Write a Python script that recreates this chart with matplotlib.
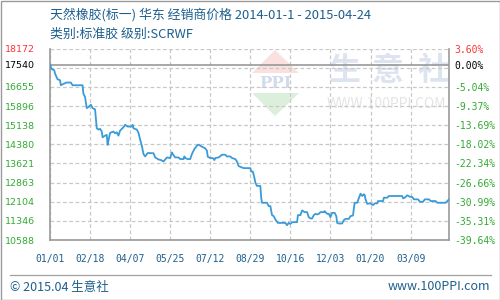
import matplotlib
matplotlib.use("Agg")
import matplotlib.pyplot as plt
from matplotlib.patches import Polygon, Rectangle
import numpy as np

plt.rcParams['font.family'] = ['Noto Sans CJK SC', 'DejaVu Sans']

# data (day offset from 2014-01-01, price in yuan/ton)
days = [0, 2, 5, 6, 9, 12, 13, 16, 20, 25, 27, 39, 40, 42, 44, 46, 49, 51, 54, 56,
        58, 60, 62, 63, 66, 68, 69, 70, 72, 76, 78, 80, 82, 84, 88, 90, 93, 98, 99, 100,
        104, 106, 108, 110, 112, 114, 117, 124, 126, 130, 133, 136, 140, 144, 146, 147, 150, 154, 156, 160,
        161, 162, 165, 168, 170, 173, 176, 178, 182, 186, 188, 189, 192, 195, 197, 198, 202, 206, 210, 212,
        216, 218, 222, 224, 226, 232, 240, 241, 243, 245, 246, 248, 252, 253, 254, 260, 262, 264, 266, 268,
        270, 273, 282, 284, 286, 288, 290, 296, 297, 300, 302, 305, 308, 310, 312, 314, 316, 318, 320, 322,
        324, 328, 329, 332, 334, 336, 338, 341, 343, 344, 346, 350, 352, 354, 358, 360, 363, 364, 365, 368,
        369, 371, 372, 374, 376, 377, 378, 380, 384, 387, 389, 392, 393, 399, 400, 404, 406, 422, 423, 425,
        428, 431, 434, 436, 441, 443, 447, 449, 454, 456, 462, 464, 474, 476, 478]
price = [17540, 17362, 17322, 17190, 16962, 16922, 16723, 16775, 16831, 16831, 16723, 16723, 16392, 16256, 15817, 15857, 15952, 15817, 15765, 15018,
         14966, 14994, 14887, 14659, 14727, 14755, 14356, 14527, 14835, 14887, 14819, 14859, 14727, 14926, 15058, 15154, 15086, 15086, 15154, 15018,
         14966, 14835, 14567, 14328, 13996, 13901, 14036, 14028, 13861, 13781, 13757, 13701, 13861, 13837, 14060, 13996, 13861, 13861, 13797, 13797,
         13901, 13837, 13797, 13797, 13996, 14196, 14328, 14368, 14288, 14220, 14128, 13889, 13837, 13837, 13757, 13837, 13861, 13968, 13968, 13901,
         13901, 13837, 13797, 13701, 13517, 13437, 13437, 13302, 13302, 13038, 12863, 12731, 12731, 12264, 12064, 12064, 11932, 11932, 11573, 11533,
         11402, 11266, 11266, 11174, 11266, 11226, 11294, 11294, 11573, 11573, 11761, 11693, 11693, 11493, 11442, 11442, 11573, 11625, 11601, 11625,
         11693, 11693, 11733, 11625, 11625, 11493, 11665, 11665, 11533, 11266, 11242, 11242, 11374, 11426, 11426, 11533, 11561, 11841, 12064, 12064,
         12160, 12332, 12424, 12332, 12400, 12372, 12200, 12024, 12040, 11972, 12040, 12040, 12132, 12132, 12264, 12264, 12332, 12332, 12240, 12264,
         12360, 12304, 12292, 12200, 12200, 12104, 12104, 12200, 12200, 12132, 12132, 12064, 12064, 12132, 12200]

base_price = 17540
y_min, y_max = 10588, 18172
left_labels = ['10588', '11346', '12104', '12863', '13621', '14380', '15138', '15896', '16655', '', '18172']
right_labels = ['-39.64%', '-35.31%', '-30.99%', '-26.66%', '-22.34%', '-18.02%', '-13.69%', '-9.37%', '-5.04%', '', '3.60%']
x_labels = ['01/01', '02/18', '04/07', '05/25', '07/12', '08/29', '10/16', '12/03', '01/20', '03/09']
x_step = 48
x_end = 478

title = '天然橡胶(标一) 华东 经销商价格 2014-01-1 - 2015-04-24'
subtitle = '类别:标准胶 级别:SCRWF'

blue_txt = '#1d5f8e'
red = '#ff3333'
green = '#33aa33'
grid_c = '#c8c8c8'
axis_c = '#999999'

fig = plt.figure(figsize=(5, 3), dpi=100)

# background layer in pixel coords for frame, texts and watermark
bg = fig.add_axes([0, 0, 1, 1], zorder=0)
bg.set_xlim(0, 500)
bg.set_ylim(300, 0)
bg.axis('off')
bg.add_patch(Rectangle((0.5, 0.5), 499, 299, fill=False, ec='#9a9a9a', lw=1))
bg.plot([10, 491], [275, 275], color='#a0a0a0', lw=0.9)
bg.text(50, 15, title, color=blue_txt, fontsize=9.3, va='center', ha='left')
bg.text(50, 34, subtitle, color=blue_txt, fontsize=9.3, va='center', ha='left')
bg.text(10, 287, '© 2015.04 生意社', color=blue_txt, fontsize=9, va='center', ha='left')
bg.text(490, 287, 'www.100PPI.com', color=blue_txt, fontsize=9, va='center', ha='right')

# watermark logo
bg.add_patch(Polygon([[275, 50], [252, 73], [299, 73]], closed=True, fc='#fbe0e0', ec='none'))
bg.add_patch(Polygon([[252, 93], [299, 93], [275, 116]], closed=True, fc='#dcefdc', ec='none'))
bg.text(275, 83, 'PPI', color='#d0dbeb', fontsize=12, fontweight='bold', family='DejaVu Serif',
        ha='center', va='center')
for cx, ch in zip([344, 388, 434], '生意社'):
    bg.text(cx, 71, ch, color='#dde4ef', fontsize=23, fontweight='bold', ha='center', va='center')
bg.text(386, 104, 'WWW.100PPI.COM', color='#e4e4e4', fontsize=10, ha='center', va='center')

# main chart
ax = fig.add_axes([50 / 500, 1 - 240 / 300, 399 / 500, 191.3 / 300], zorder=1)
ax.patch.set_alpha(0)
ax.set_xlim(0, x_end)
ax.set_ylim(y_min, y_max)

grid_vals = np.linspace(y_min, y_max, 11)
for v in grid_vals:
    ax.axhline(v, color=grid_c, lw=0.9, ls=(0, (3, 2)), zorder=1)
x_ticks = np.arange(len(x_labels)) * x_step
for t in x_ticks:
    ax.axvline(t, color=grid_c, lw=0.9, ls=(0, (3, 2)), zorder=1)
ax.axhline(base_price, color=axis_c, lw=1.2, zorder=2)

ax.plot(days, price, color='#3a9bd8', lw=1.3, zorder=3)

for s in ['top']:
    ax.spines[s].set_visible(False)
for s in ['left', 'bottom', 'right']:
    ax.spines[s].set_color(axis_c)
    ax.spines[s].set_linewidth(1.2)

ax.set_xticks(x_ticks)
ax.set_xticklabels(x_labels, family='DejaVu Sans Mono', fontsize=7, color=blue_txt)
ax.tick_params(axis='x', length=0, pad=10)

ax.set_yticks(list(grid_vals) + [base_price])
ax.set_yticklabels(left_labels + [str(base_price)], family='DejaVu Sans', fontsize=6.8)
ax.tick_params(axis='y', length=0, pad=11)
for i, lab in enumerate(ax.get_yticklabels()):
    lab.set_color(red if i == 10 else ('black' if i == 11 else green))

ax2 = ax.twinx()
ax2.set_ylim(y_min, y_max)
ax2.set_yticks(list(grid_vals) + [base_price])
ax2.set_yticklabels(right_labels + ['0.00%'], family='DejaVu Sans Mono', fontsize=7)
ax2.tick_params(axis='y', length=0, pad=4)
for i, lab in enumerate(ax2.get_yticklabels()):
    lab.set_color(red if i == 10 else ('black' if i == 11 else green))
for s in ax2.spines.values():
    s.set_visible(False)

fig.savefig('out.png', dpi=100)
